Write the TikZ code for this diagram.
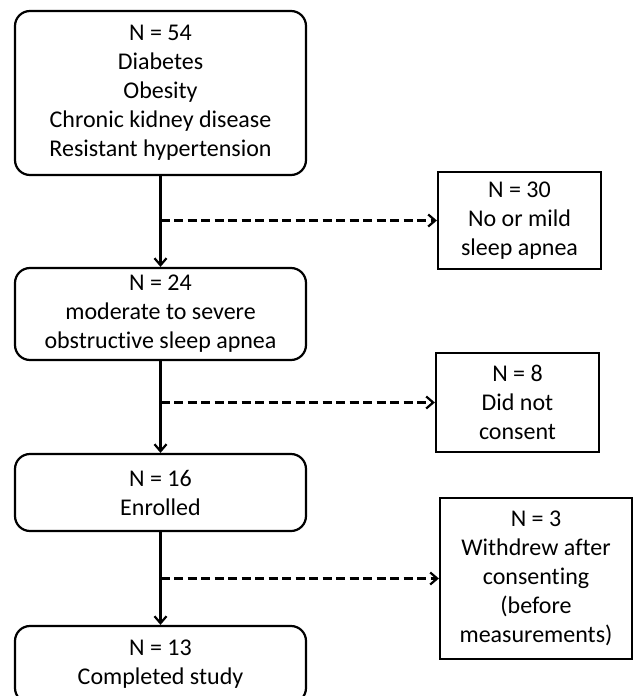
\documentclass[tikz,border=0pt]{standalone}
\usepackage{fontspec}
\setmainfont{Carlito}[Ligatures=NoCommon]
\usetikzlibrary{arrows.meta}

\begin{document}
\begin{tikzpicture}
  [x=1pt,y=-1pt,line width=2.2pt,
   every node/.style={draw,align=center,inner sep=0pt,
     font=\fontsize{24}{29}\selectfont},
   stage/.style={rounded corners=15pt,minimum width=291pt},
   excl/.style={rectangle,minimum width=163pt},
   flow/.style={-{Straight Barb[length=7pt,width=12pt]}},
   drop/.style={dashed,dash pattern=on 9pt off 4.5pt,-{Straight Barb[length=7pt,width=12pt]}}]

  \useasboundingbox (0,0) rectangle (634,696);
  \clip (0,0) rectangle (634,696);

  \node[stage,minimum height=164pt] (s1) at (160.5,93) {N = 54\\Diabetes\\Obesity\\Chronic kidney disease\\Resistant hypertension};
  \node[stage,minimum height=92pt] (s2) at (160.5,314) {N = 24\\moderate to severe\\obstructive sleep apnea};
  \node[stage,minimum height=77pt] (s3) at (160.5,492.5) {N = 16\\Enrolled};
  \node[stage,minimum height=77pt] (s4) at (160.5,664.5) {N = 13\\Completed study};

  \node[excl,minimum height=97pt] (e1) at (519.5,220.5) {N = 30\\No or mild\\sleep apnea};
  \node[excl,minimum height=99pt] (e2) at (517.5,402.5) {N = 8\\Did not\\consent};
  \node[excl,minimum width=192pt,minimum height=161pt] (e3) at (536,578.5) {N = 3\\Withdrew after\\consenting\\(before\\measurements)};

  \draw[flow] (s1) -- (s2);
  \draw[flow] (s2) -- (s3);
  \draw[flow] (s3) -- (s4);

  \draw[drop] (s1.south |- e1.west) -- (e1.west);
  \draw[drop] (s2.south |- e2.west) -- (e2.west);
  \draw[drop] (s3.south |- e3.west) -- (e3.west);
\end{tikzpicture}
\end{document}
